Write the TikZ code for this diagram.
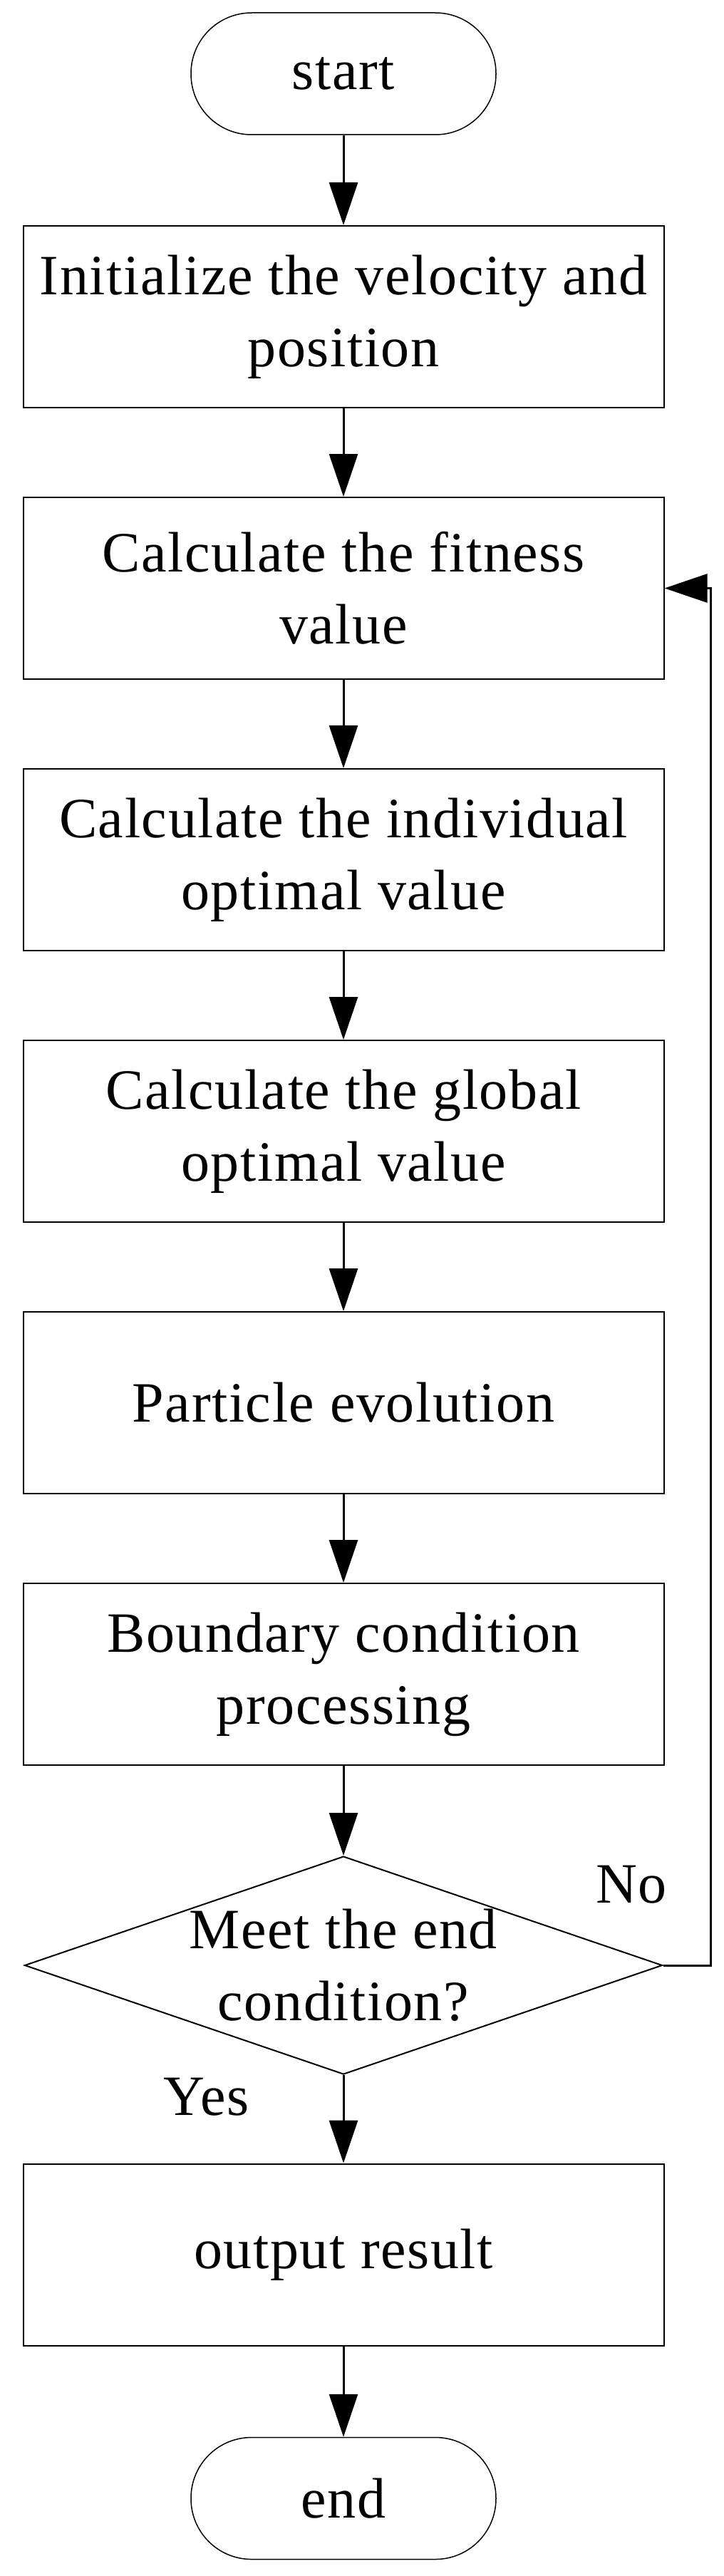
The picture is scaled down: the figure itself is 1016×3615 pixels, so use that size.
\documentclass[tikz,border=0pt]{standalone}
\usepackage{fontspec}
\setmainfont[LetterSpace=2]{Liberation Serif}
\usepackage{tikz}
\usetikzlibrary{arrows.meta,shapes.geometric}

\begin{document}
\begin{tikzpicture}[
    node distance=381pt,
    every node/.style={font=\fontsize{80pt}{101pt}\selectfont},
    >={Triangle[length=60pt,width=40pt]},
    term/.style={draw,line width=1.5pt,rounded corners=85pt,minimum width=428pt,minimum height=171pt,inner sep=0pt},
    procbox/.style={draw,line width=2pt,minimum width=899pt,minimum height=255pt,inner sep=0pt,align=center},
    decision/.style={draw,diamond,line width=2pt,minimum width=895pt,minimum height=306pt,inner sep=0pt},
    flow/.style={line width=3pt}
  ]
      \useasboundingbox (0,0) rectangle (1016pt,-3615pt);

      \node (0) [term] at (482pt,-103.5pt) {start};
      \node (1) [procbox,below of=0,yshift=40pt] {Initialize the velocity and\\position};
      \node (2) [procbox,below of=1] {Calculate the fitness\\value};
      \node (3) [procbox,below of=2] {Calculate the individual\\optimal value};
      \node (4) [procbox,below of=3] {Calculate the global\\optimal value};
      \node (5) [procbox,below of=4] {Particle evolution};
      \node (6) [procbox,below of=5] {Boundary condition\\processing};
      \node (8) [decision,below of=6,yshift=-27.5pt,label={[align=center]center:{Meet the end\\condition?}}] {};
      \node (9) [procbox,below of=8,yshift=-25pt] {output result};
      \node (10) [term,below of=9,yshift=39pt] {end};

      \draw[->,flow] (0) -- (1);
      \draw[->,flow] (1) -- (2);
      \draw[->,flow] (2) -- (3);
      \draw[->,flow] (3) -- (4);
      \draw[->,flow] (4) -- (5);
      \draw[->,flow] (5) -- (6);
      \draw[->,flow] (6) -- (8);

      \draw[->,flow] (8) -- node[pos=0.25,left,xshift=-131pt,inner sep=0pt] {Yes} (9);
      \draw[->,flow] (8.east) node[above left,inner sep=0pt,xshift=7pt,yshift=85pt] {No} -- ++(67pt,0) |- (2.east);

      \draw[->,flow] (9) -- (10);

\end{tikzpicture}
\end{document}
